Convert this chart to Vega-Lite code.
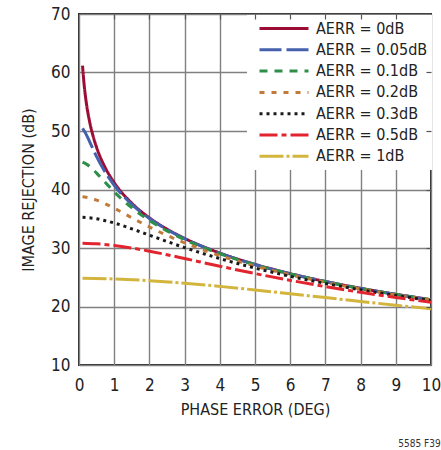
{
  "$schema": "https://vega.github.io/schema/vega-lite/v6.json",
  "width": 352,
  "height": 351,
  "autosize": {"type": "none"},
  "padding": {"left": 79, "top": 14, "right": 10, "bottom": 85},
  "background": "white",
  "title": {"text": "5585 F39", "orient": "bottom", "anchor": "end", "fontSize": 10, "fontWeight": "normal", "color": "#333", "offset": 22},
  "config": {
    "font": "Liberation Sans Narrow, DejaVu Sans Condensed, Roboto, sans-serif",
    "view": {"stroke": "#2a2a2a", "strokeWidth": 2},
    "axis": {
      "labelFontSize": 17, "titleFontSize": 16, "titleFontWeight": "normal",
      "labelColor": "#222", "titleColor": "#222",
      "gridColor": "#808080", "gridWidth": 1.4, "gridOpacity": 1,
      "domain": false, "ticks": false, "labelFlush": false
    },
    "legend": {
      "orient": "none", "legendX": 168, "legendY": 1,
      "fillColor": "white", "padding": 4,
      "symbolType": "stroke", "symbolSize": 2401, "symbolStrokeWidth": 3,
      "clipHeight": 19, "rowPadding": 2.3,
      "labelFontSize": 16, "labelOffset": 6, "symbolOffset": 7,
      "labelColor": "#222", "zindex": 2
    }
  },
  "data": {"values": [
    {"p": 0.1, "s": "AERR = 0dB", "v": 61.18},
    {"p": 0.15, "s": "AERR = 0dB", "v": 57.66},
    {"p": 0.2, "s": "AERR = 0dB", "v": 55.16},
    {"p": 0.3, "s": "AERR = 0dB", "v": 51.64},
    {"p": 0.4, "s": "AERR = 0dB", "v": 49.14},
    {"p": 0.5, "s": "AERR = 0dB", "v": 47.20},
    {"p": 0.75, "s": "AERR = 0dB", "v": 43.68},
    {"p": 1, "s": "AERR = 0dB", "v": 41.18},
    {"p": 1.5, "s": "AERR = 0dB", "v": 37.66},
    {"p": 2, "s": "AERR = 0dB", "v": 35.16},
    {"p": 2.5, "s": "AERR = 0dB", "v": 33.22},
    {"p": 3, "s": "AERR = 0dB", "v": 31.64},
    {"p": 4, "s": "AERR = 0dB", "v": 29.14},
    {"p": 5, "s": "AERR = 0dB", "v": 27.20},
    {"p": 6, "s": "AERR = 0dB", "v": 25.61},
    {"p": 7, "s": "AERR = 0dB", "v": 24.27},
    {"p": 8, "s": "AERR = 0dB", "v": 23.11},
    {"p": 9, "s": "AERR = 0dB", "v": 22.08},
    {"p": 10, "s": "AERR = 0dB", "v": 21.16},

    {"p": 0.1, "s": "AERR = 0.05dB", "v": 50.44},
    {"p": 0.15, "s": "AERR = 0.05dB", "v": 50.00},
    {"p": 0.2, "s": "AERR = 0.05dB", "v": 49.46},
    {"p": 0.3, "s": "AERR = 0.05dB", "v": 48.20},
    {"p": 0.4, "s": "AERR = 0.05dB", "v": 46.89},
    {"p": 0.5, "s": "AERR = 0.05dB", "v": 45.63},
    {"p": 0.75, "s": "AERR = 0.05dB", "v": 42.91},
    {"p": 1, "s": "AERR = 0.05dB", "v": 40.73},
    {"p": 1.5, "s": "AERR = 0.05dB", "v": 37.46},
    {"p": 2, "s": "AERR = 0.05dB", "v": 35.05},
    {"p": 2.5, "s": "AERR = 0.05dB", "v": 33.15},
    {"p": 3, "s": "AERR = 0.05dB", "v": 31.59},
    {"p": 4, "s": "AERR = 0.05dB", "v": 29.11},
    {"p": 5, "s": "AERR = 0.05dB", "v": 27.18},
    {"p": 6, "s": "AERR = 0.05dB", "v": 25.60},
    {"p": 7, "s": "AERR = 0.05dB", "v": 24.26},
    {"p": 8, "s": "AERR = 0.05dB", "v": 23.10},
    {"p": 9, "s": "AERR = 0.05dB", "v": 22.07},
    {"p": 10, "s": "AERR = 0.05dB", "v": 21.16},

    {"p": 0.1, "s": "AERR = 0.1dB", "v": 44.66},
    {"p": 0.15, "s": "AERR = 0.1dB", "v": 44.54},
    {"p": 0.2, "s": "AERR = 0.1dB", "v": 44.38},
    {"p": 0.3, "s": "AERR = 0.1dB", "v": 43.95},
    {"p": 0.4, "s": "AERR = 0.1dB", "v": 43.41},
    {"p": 0.5, "s": "AERR = 0.1dB", "v": 42.80},
    {"p": 0.75, "s": "AERR = 0.1dB", "v": 41.18},
    {"p": 1, "s": "AERR = 0.1dB", "v": 39.60},
    {"p": 1.5, "s": "AERR = 0.1dB", "v": 36.89},
    {"p": 2, "s": "AERR = 0.1dB", "v": 34.71},
    {"p": 2.5, "s": "AERR = 0.1dB", "v": 32.93},
    {"p": 3, "s": "AERR = 0.1dB", "v": 31.43},
    {"p": 4, "s": "AERR = 0.1dB", "v": 29.02},
    {"p": 5, "s": "AERR = 0.1dB", "v": 27.12},
    {"p": 6, "s": "AERR = 0.1dB", "v": 25.56},
    {"p": 7, "s": "AERR = 0.1dB", "v": 24.23},
    {"p": 8, "s": "AERR = 0.1dB", "v": 23.08},
    {"p": 9, "s": "AERR = 0.1dB", "v": 22.06},
    {"p": 10, "s": "AERR = 0.1dB", "v": 21.14},

    {"p": 0.1, "s": "AERR = 0.2dB", "v": 38.75},
    {"p": 0.2, "s": "AERR = 0.2dB", "v": 38.68},
    {"p": 0.3, "s": "AERR = 0.2dB", "v": 38.56},
    {"p": 0.5, "s": "AERR = 0.2dB", "v": 38.19},
    {"p": 0.75, "s": "AERR = 0.2dB", "v": 37.56},
    {"p": 1, "s": "AERR = 0.2dB", "v": 36.80},
    {"p": 1.5, "s": "AERR = 0.2dB", "v": 35.17},
    {"p": 2, "s": "AERR = 0.2dB", "v": 33.59},
    {"p": 2.5, "s": "AERR = 0.2dB", "v": 32.16},
    {"p": 3, "s": "AERR = 0.2dB", "v": 30.87},
    {"p": 4, "s": "AERR = 0.2dB", "v": 28.69},
    {"p": 5, "s": "AERR = 0.2dB", "v": 26.91},
    {"p": 6, "s": "AERR = 0.2dB", "v": 25.41},
    {"p": 7, "s": "AERR = 0.2dB", "v": 24.12},
    {"p": 8, "s": "AERR = 0.2dB", "v": 22.99},
    {"p": 9, "s": "AERR = 0.2dB", "v": 21.99},
    {"p": 10, "s": "AERR = 0.2dB", "v": 21.09},

    {"p": 0.1, "s": "AERR = 0.3dB", "v": 35.24},
    {"p": 0.2, "s": "AERR = 0.3dB", "v": 35.21},
    {"p": 0.3, "s": "AERR = 0.3dB", "v": 35.16},
    {"p": 0.5, "s": "AERR = 0.3dB", "v": 34.99},
    {"p": 0.75, "s": "AERR = 0.3dB", "v": 34.67},
    {"p": 1, "s": "AERR = 0.3dB", "v": 34.27},
    {"p": 1.5, "s": "AERR = 0.3dB", "v": 33.28},
    {"p": 2, "s": "AERR = 0.3dB", "v": 32.20},
    {"p": 2.5, "s": "AERR = 0.3dB", "v": 31.11},
    {"p": 3, "s": "AERR = 0.3dB", "v": 30.07},
    {"p": 4, "s": "AERR = 0.3dB", "v": 28.19},
    {"p": 5, "s": "AERR = 0.3dB", "v": 26.57},
    {"p": 6, "s": "AERR = 0.3dB", "v": 25.16},
    {"p": 7, "s": "AERR = 0.3dB", "v": 23.94},
    {"p": 8, "s": "AERR = 0.3dB", "v": 22.85},
    {"p": 9, "s": "AERR = 0.3dB", "v": 21.88},
    {"p": 10, "s": "AERR = 0.3dB", "v": 21.00},

    {"p": 0.1, "s": "AERR = 0.5dB", "v": 30.82},
    {"p": 0.5, "s": "AERR = 0.5dB", "v": 30.72},
    {"p": 1, "s": "AERR = 0.5dB", "v": 30.44},
    {"p": 1.5, "s": "AERR = 0.5dB", "v": 30.00},
    {"p": 2, "s": "AERR = 0.5dB", "v": 29.46},
    {"p": 2.5, "s": "AERR = 0.5dB", "v": 28.85},
    {"p": 3, "s": "AERR = 0.5dB", "v": 28.20},
    {"p": 4, "s": "AERR = 0.5dB", "v": 26.89},
    {"p": 5, "s": "AERR = 0.5dB", "v": 25.63},
    {"p": 6, "s": "AERR = 0.5dB", "v": 24.47},
    {"p": 7, "s": "AERR = 0.5dB", "v": 23.40},
    {"p": 8, "s": "AERR = 0.5dB", "v": 22.43},
    {"p": 9, "s": "AERR = 0.5dB", "v": 21.54},
    {"p": 10, "s": "AERR = 0.5dB", "v": 20.71},

    {"p": 0.1, "s": "AERR = 1dB", "v": 24.81},
    {"p": 1, "s": "AERR = 1dB", "v": 24.71},
    {"p": 2, "s": "AERR = 1dB", "v": 24.42},
    {"p": 3, "s": "AERR = 1dB", "v": 23.99},
    {"p": 4, "s": "AERR = 1dB", "v": 23.44},
    {"p": 5, "s": "AERR = 1dB", "v": 22.83},
    {"p": 6, "s": "AERR = 1dB", "v": 22.18},
    {"p": 7, "s": "AERR = 1dB", "v": 21.52},
    {"p": 8, "s": "AERR = 1dB", "v": 20.86},
    {"p": 9, "s": "AERR = 1dB", "v": 20.22},
    {"p": 10, "s": "AERR = 1dB", "v": 19.60}
  ]},
  "layer": [
    {
      "mark": {"type": "line", "strokeWidth": 3, "interpolate": "monotone", "clip": true},
      "encoding": {
        "x": {"field": "p", "type": "quantitative",
              "scale": {"domain": [0, 10], "nice": false},
              "axis": {"values": [0,1,2,3,4,5,6,7,8,9,10], "title": "PHASE ERROR (DEG)", "labelPadding": 12, "titlePadding": 8, "grid": true}},
        "y": {"field": "v", "type": "quantitative",
              "scale": {"domain": [10, 70], "nice": false, "zero": false},
              "axis": {"values": [10,20,30,40,50,60,70], "title": "IMAGE REJECTION (dB)", "labelPadding": 9, "titlePadding": 14, "grid": true}},
        "color": {"field": "s", "type": "nominal", "title": null,
                  "scale": {"domain": ["AERR = 0dB","AERR = 0.05dB","AERR = 0.1dB","AERR = 0.2dB","AERR = 0.3dB","AERR = 0.5dB","AERR = 1dB"],
                            "range": ["#9B0D34","#4560AD","#2F8F4A","#C27A3A","#1A1A1A","#E1242E","#D3B53D"]}},
        "strokeDash": {"field": "s", "type": "nominal", "title": null,
                  "scale": {"domain": ["AERR = 0dB","AERR = 0.05dB","AERR = 0.1dB","AERR = 0.2dB","AERR = 0.3dB","AERR = 0.5dB","AERR = 1dB"],
                            "range": [[1,0],[22,5],[8,7],[5,7],[3,4],[18,4,5,4],[24,3,3,3]]}}
      }
    },
    {
      "mark": {"type": "line", "opacity": 0},
      "encoding": {
        "x": {"field": "p", "type": "quantitative",
              "axis": {"orient": "top", "values": [1,2,3,4,5,6,7,8,9], "labels": false, "title": null, "grid": false, "ticks": true, "tickSize": -5, "tickColor": "#555", "tickWidth": 1.2, "zindex": 3}},
        "y": {"field": "v", "type": "quantitative",
              "axis": {"orient": "right", "values": [20,30,40,50,60], "labels": false, "title": null, "grid": false, "ticks": true, "tickSize": -5, "tickColor": "#555", "tickWidth": 1.2, "zindex": 3}}
      }
    }
  ],
  "resolve": {"axis": {"x": "independent", "y": "independent"}}
}
